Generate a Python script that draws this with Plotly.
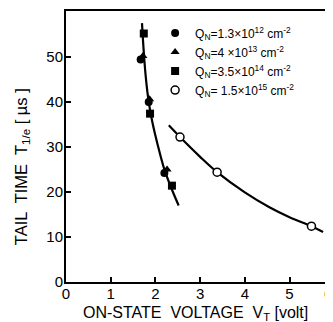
import plotly.graph_objects as go

# Measured points (x: on-state voltage [V], y: tail time [µs])
circ_x = [1.67, 1.85, 2.20]
circ_y = [49.4, 40.0, 24.2]
tri_x = [1.72, 1.87, 2.26]
tri_y = [50.2, 40.6, 25.0]
sq_x = [1.74, 1.88, 2.37]
sq_y = [55.2, 37.4, 21.4]
open_x = [2.55, 3.38, 5.49]
open_y = [32.2, 24.4, 12.4]

# Fitted curves as drawn in the figure
curve1_x = [1.70, 1.73, 1.78, 1.85, 1.93, 2.05, 2.20, 2.35, 2.52]
curve1_y = [57.5, 52.5, 46.0, 40.0, 35.6, 30.5, 25.0, 21.0, 17.0]
curve2_x = [2.30, 2.55, 3.00, 3.38, 4.00, 4.55, 5.00, 5.49, 5.75]
curve2_y = [34.8, 32.2, 27.8, 24.4, 19.9, 16.6, 14.4, 12.4, 11.1]

legend_labels = [
    "Q<sub>N</sub>=1.3×10<sup>12</sup> cm<sup>-2</sup>",
    "Q<sub>N</sub>=4 ×10<sup>13</sup> cm<sup>-2</sup>",
    "Q<sub>N</sub>=3.5×10<sup>14</sup> cm<sup>-2</sup>",
    "Q<sub>N</sub>= 1.5×10<sup>15</sup> cm<sup>-2</sup>",
]

x_ticks = [0, 1, 2, 3, 4, 5]
y_ticks = [0, 10, 20, 30, 40, 50]

FONT = "Liberation Sans, Arial, sans-serif"

fig = go.Figure()
fig.add_trace(go.Scatter(x=curve1_x, y=curve1_y, mode="lines",
                         line=dict(color="black", width=2.2, shape="spline", smoothing=1.0),
                         showlegend=False, hoverinfo="skip"))
fig.add_trace(go.Scatter(x=curve2_x, y=curve2_y, mode="lines",
                         line=dict(color="black", width=2.2, shape="spline", smoothing=1.0),
                         showlegend=False, hoverinfo="skip"))
fig.add_trace(go.Scatter(x=circ_x, y=circ_y, mode="markers", name=legend_labels[0],
                         marker=dict(symbol="circle", size=8, color="black")))
fig.add_trace(go.Scatter(x=tri_x, y=tri_y, mode="markers", name=legend_labels[1],
                         marker=dict(symbol="triangle-up", size=8, color="black")))
fig.add_trace(go.Scatter(x=sq_x, y=sq_y, mode="markers", name=legend_labels[2],
                         marker=dict(symbol="square", size=8, color="black")))
fig.add_trace(go.Scatter(x=open_x, y=open_y, mode="markers", name=legend_labels[3],
                         marker=dict(symbol="circle", size=8, color="white",
                                     line=dict(color="black", width=1.5))))

fig.update_layout(
    width=325, height=314,
    margin=dict(l=58, r=1, t=3, b=40, autoexpand=False),
    paper_bgcolor="white", plot_bgcolor="white",
    font=dict(family=FONT, color="black"),
    showlegend=True,
    legend=dict(x=0.335, y=0.972, xanchor="left", yanchor="top",
                bgcolor="rgba(0,0,0,0)", font=dict(size=12, family=FONT),
                itemwidth=30, tracegroupgap=0, traceorder="normal"),
    xaxis=dict(range=[0, 5.95], tickvals=x_ticks, ticktext=[str(v) for v in x_ticks],
               showgrid=False, zeroline=False, showline=True, linecolor="black",
               linewidth=2, mirror=True, ticks="inside", ticklen=5, tickwidth=1.5,
               tickcolor="black", tickfont=dict(size=15, family=FONT),
               automargin=False, ticklabelstandoff=-3),
    yaxis=dict(range=[0, 60.2], tickvals=y_ticks, ticktext=[str(v) for v in y_ticks],
               showgrid=False, zeroline=False, showline=True, linecolor="black",
               linewidth=2, mirror=True, ticks="inside", ticklen=5, tickwidth=1.5,
               tickcolor="black", tickfont=dict(size=15, family=FONT),
               automargin=False, ticklabelstandoff=-2),
)

fig.add_annotation(x=0.485, y=-0.116, xref="paper", yref="paper",
                   text="ON-STATE  VOLTAGE  V<sub>T</sub> [volt]", showarrow=False,
                   xanchor="center", yanchor="middle", font=dict(size=16, family=FONT))
fig.add_annotation(x=-0.165, y=0.424, xref="paper", yref="paper",
                   text="TAIL  TIME  T<sub>1/e</sub> [ µs ]", showarrow=False, textangle=-90,
                   xanchor="center", yanchor="middle", font=dict(size=16.5, family=FONT))
fig.add_annotation(x=6 / 5.95, y=0, xref="paper", yref="paper", text="6",
                   showarrow=False, yanchor="top", yshift=-1, font=dict(size=15, family=FONT))

fig.write_html("out.html")
